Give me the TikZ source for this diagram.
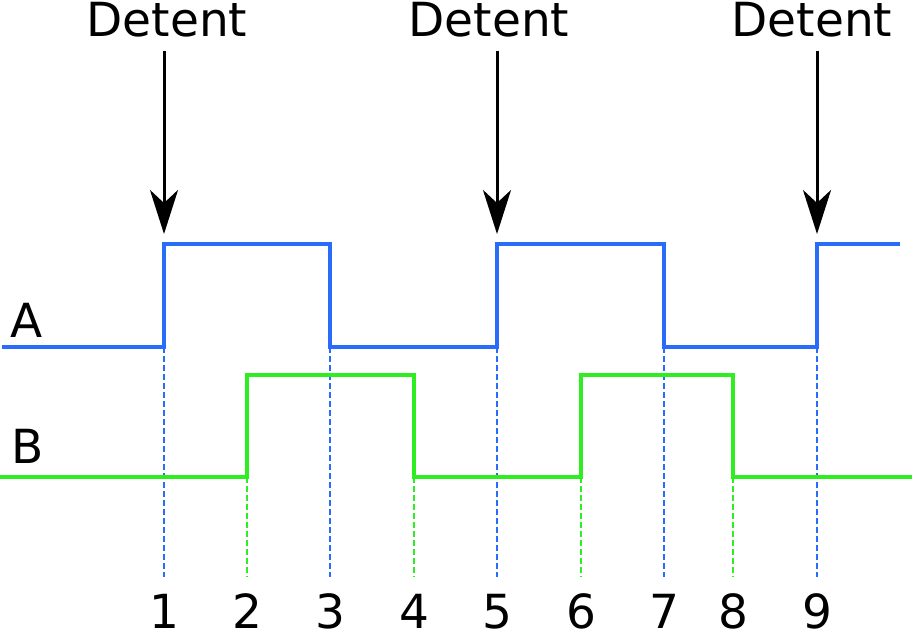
\documentclass[tikz,border=0pt]{standalone}
\usepackage{fontspec}
\setmainfont{DejaVu Sans}
\usetikzlibrary{arrows.meta}
\definecolor{sigA}{HTML}{2A6CFA}
\definecolor{sigB}{HTML}{2EEE22}
\tikzset{
  signal/.style={line width=4.5pt},
  guide/.style={line width=1.3pt,dash pattern=on 6pt off 3pt},
  detent/.style={anchor=base,inner sep=1pt}
}
\begin{document}
\begin{tikzpicture}[x=1pt,y=-1pt,>={Stealth[length=44pt,width=28pt,inset=13pt]},
  every node/.style={font=\fontsize{47}{52}\selectfont,inner sep=1pt}]
\useasboundingbox (0,0) rectangle (912,639);
% guide lines and step numbers
\foreach \n/\x/\c/\y in {1/164/sigA/347,2/247/sigB/477,3/330/sigA/347,4/414/sigB/477,
  5/497/sigA/347,6/581/sigB/477,7/664/sigA/347,8/733/sigB/477,9/817/sigA/347}
{
  \node[anchor=base] (num\n) at (\x,628) {\n};
  \draw[guide,color=\c] (\x,\y) -- (\x,577);
}
% signals
\draw[signal,sigA] (2,347) -- (164,347) -- (164,244) -- (330,244) -- (330,347) -- (497,347)
  -- (497,244) -- (664,244) -- (664,347) -- (817,347) -- (817,244) -- (900,244);
\draw[signal,sigB] (0,477) -- (247,477) -- (247,375) -- (414,375) -- (414,477) -- (581,477)
  -- (581,375) -- (733,375) -- (733,477) -- (912,477);
\node[anchor=base west] (labA) at (9,337) {A};
\node[anchor=base west] (labB) at (10,463) {B};
% detents
\node[detent] (det1) at (167,37) {Detent};
\node[detent] (det2) at (489,37) {Detent};
\node[detent] (det3) at (812,37) {Detent};
\coordinate (tip1) at (164,234);
\coordinate (tip2) at (497,234);
\coordinate (tip3) at (817,234);
\foreach \i in {1,2,3}
  \draw[->,line width=3pt,shorten <=12pt] (tip\i |- det\i.south) -- (tip\i);
\end{tikzpicture}
\end{document}
